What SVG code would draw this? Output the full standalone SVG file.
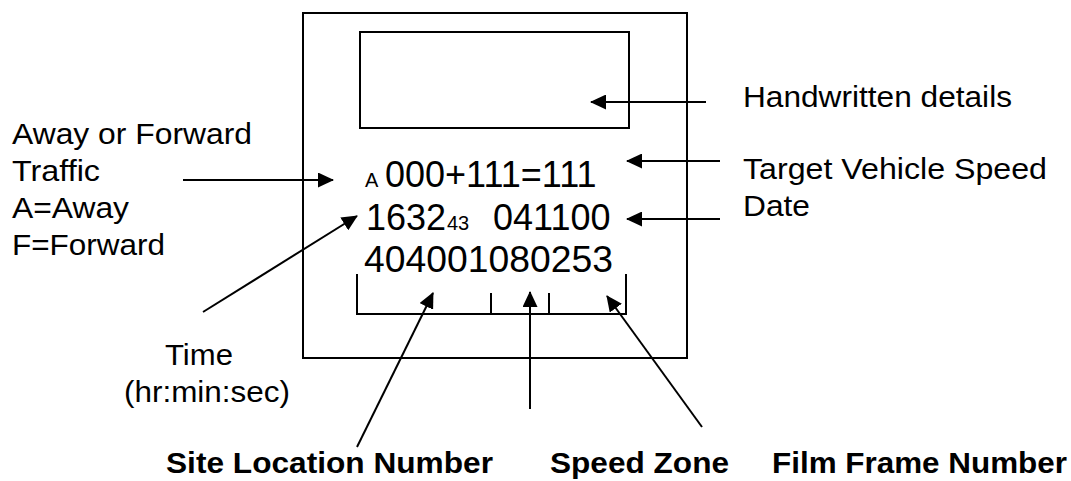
<svg xmlns="http://www.w3.org/2000/svg" width="1071" height="481" viewBox="0 0 1071 481">
<style>
.ln{stroke:#000;stroke-width:2;fill:none}
.lbl{font-family:"Liberation Sans",Arial,sans-serif;font-size:29.5px;fill:#000}
.bold{font-family:"Liberation Sans",Arial,sans-serif;font-size:30px;font-weight:bold;fill:#000}
.num{font-family:"Liberation Sans",Arial,sans-serif;font-size:36px;fill:#000}
.sm{font-family:"Liberation Sans",Arial,sans-serif;font-size:20px;fill:#000}
</style>
<defs>
<marker id="ah" markerUnits="userSpaceOnUse" markerWidth="17" markerHeight="15" refX="15" refY="7.5" orient="auto">
<path d="M0,0 L16,7.5 L0,15 z" fill="#000"/>
</marker>
</defs>
<g id="card">
<rect x="303" y="13" width="384" height="345" class="ln"/>
<rect x="360" y="32" width="269" height="96" class="ln"/>
<text class="sm" x="365" y="187">A</text>
<text class="num" x="385" y="187">000+111=111</text>
<text class="num" x="366" y="230">1632</text>
<text class="sm" x="447" y="230">43</text>
<text class="num" x="493" y="230">041100</text>
<text class="num" x="364" y="272" textLength="249" lengthAdjust="spacingAndGlyphs">404001080253</text>
<path class="ln" d="M357,274 V314 H626 V274 M491,293 V314 M549,293 V314"/>
</g>
<g id="label-handwritten"><text class="lbl" x="743" y="107" textLength="269" lengthAdjust="spacingAndGlyphs">Handwritten details</text></g>
<g id="label-speed"><text class="lbl" x="743" y="179" textLength="304" lengthAdjust="spacingAndGlyphs">Target Vehicle Speed</text></g>
<g id="label-date"><text class="lbl" x="743" y="216" textLength="67" lengthAdjust="spacingAndGlyphs">Date</text></g>
<g id="label-traffic">
<text class="lbl" x="12" y="144" textLength="240" lengthAdjust="spacingAndGlyphs">Away or Forward</text>
<text class="lbl" x="12" y="181" textLength="88" lengthAdjust="spacingAndGlyphs">Traffic</text>
<text class="lbl" x="12" y="218" textLength="117" lengthAdjust="spacingAndGlyphs">A=Away</text>
<text class="lbl" x="12" y="255" textLength="153" lengthAdjust="spacingAndGlyphs">F=Forward</text>
</g>
<g id="label-time">
<text class="lbl" x="165" y="365" textLength="68" lengthAdjust="spacingAndGlyphs">Time</text>
<text class="lbl" x="124" y="402" textLength="166" lengthAdjust="spacingAndGlyphs">(hr:min:sec)</text>
</g>
<g id="label-site"><text class="bold" x="166" y="473" textLength="327" lengthAdjust="spacingAndGlyphs">Site Location Number</text></g>
<g id="label-zone"><text class="bold" x="550" y="473" textLength="179" lengthAdjust="spacingAndGlyphs">Speed Zone</text></g>
<g id="label-frame"><text class="bold" x="772" y="473" textLength="295" lengthAdjust="spacingAndGlyphs">Film Frame Number</text></g>
<g id="connectors">
<line class="ln" x1="706" y1="102" x2="591" y2="102" marker-end="url(#ah)"/>
<line class="ln" x1="720" y1="161" x2="627" y2="161" marker-end="url(#ah)"/>
<line class="ln" x1="720" y1="219" x2="627" y2="219" marker-end="url(#ah)"/>
<line class="ln" x1="183" y1="180" x2="333" y2="180" marker-end="url(#ah)"/>
<line class="ln" x1="203" y1="312" x2="357" y2="216" marker-end="url(#ah)"/>
<line class="ln" x1="357" y1="447" x2="433" y2="293" marker-end="url(#ah)"/>
<line class="ln" x1="530" y1="409" x2="530" y2="292" marker-end="url(#ah)"/>
<line class="ln" x1="702" y1="427" x2="607" y2="296" marker-end="url(#ah)"/>
</g>
</svg>
